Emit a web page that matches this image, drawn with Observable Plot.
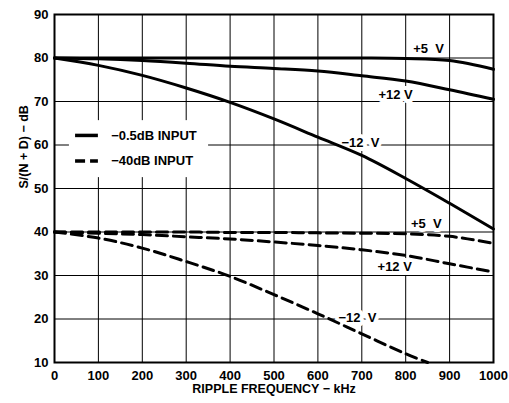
<!DOCTYPE html>
<html>
<head>
<meta charset="utf-8">
<script src="https://cdn.jsdelivr.net/npm/d3@7"></script>
<script src="https://cdn.jsdelivr.net/npm/@observablehq/plot@0.6"></script>
<style>
  html, body { margin: 0; padding: 0; background: #fff; }
</style>
</head>
<body>
<div id="chart"></div>
<script>
// ---- data ----
const freq = [0, 100, 200, 300, 400, 500, 600, 700, 800, 900, 1000];
const solidP5 = [80, 80, 80, 80, 80, 80, 80, 80, 79.9, 79.4, 77.4];
const solidP12 = [80, 79.8, 79.4, 78.8, 78.1, 77.6, 77.0, 75.9, 74.7, 72.7, 70.5];
const solidM12 = [80, 78.3, 76.0, 73.1, 69.8, 66.0, 61.8, 57.6, 52.3, 46.6, 40.7];
const dashP5 = [40, 40, 40, 40, 39.9, 39.9, 39.8, 39.7, 39.6, 39.0, 37.4];
const dashP12 = [40, 39.7, 39.4, 38.9, 38.4, 37.7, 36.9, 35.9, 34.6, 32.7, 30.8];
const freqDashM12 = [0, 100, 200, 300, 400, 500, 600, 700, 800, 850];
const dashM12 = [40, 38.6, 36.3, 33.2, 29.8, 25.6, 21.2, 16.6, 12.0, 10.0];

const xTicks = [0, 100, 200, 300, 400, 500, 600, 700, 800, 900, 1000];
const yTicks = [10, 20, 30, 40, 50, 60, 70, 80, 90];
const xGrid = [100, 200, 300, 400, 500, 600, 700, 800, 900];
const yGrid = [20, 30, 40, 50, 60, 70, 80];

const xLabel = "RIPPLE FREQUENCY − kHz";
const yLabel = "S/(N + D) − dB";

const curveLabels = [
  {x: 852, y: 82.0, text: "+5  V"},
  {x: 777, y: 71.5, text: "+12 V"},
  {x: 697, y: 60.4, text: "−12  V"},
  {x: 847, y: 41.9, text: "+5  V"},
  {x: 775, y: 31.9, text: "+12 V"},
  {x: 690, y: 20.3, text: "−12  V"}
];

const legendItems = [
  {name: "−0.5dB INPUT", y: 62.2, dash: null},
  {name: "−40dB INPUT", y: 56.3, dash: "10,5"}
];
const legendBox = {x1: 34, x2: 351, y1: 52.5, y2: 65.6};
const legendLineX = [48, 100];
const legendTextX = 129;

// ---- build series table ----
function series(xs, ys, name) {
  return xs.map((x, i) => ({x, y: ys[i], name}));
}
const solid = [
  ...series(freq, solidP5, "s+5"),
  ...series(freq, solidP12, "s+12"),
  ...series(freq, solidM12, "s-12")
];
const dashed = [
  ...series(freq, dashP5, "d+5"),
  ...series(freq, dashP12, "d+12"),
  ...series(freqDashM12, dashM12, "d-12")
];

const font = "'Liberation Sans', Arial, Helvetica, sans-serif";

const chart = Plot.plot({
  width: 509,
  height: 403,
  marginLeft: 54,
  marginRight: 16,
  marginTop: 14,
  marginBottom: 41,
  style: {fontFamily: font, fontWeight: "bold", fontSize: "13px", color: "#000", background: "#fff"},
  x: {domain: [0, 1000]},
  y: {domain: [10, 90]},
  marks: [
    Plot.ruleX(xGrid, {stroke: "#000", strokeWidth: 1}),
    Plot.ruleY(yGrid, {stroke: "#000", strokeWidth: 1}),
    Plot.rect([legendBox], {x1: "x1", x2: "x2", y1: "y1", y2: "y2", fill: "#fff"}),
    Plot.text(curveLabels, {x: "x", y: "y", text: "text", fill: "#fff", stroke: "#fff", strokeWidth: 8, fontSize: 13, fontWeight: "bold"}),
    Plot.line(solid, {x: "x", y: "y", z: "name", stroke: "#000", strokeWidth: 3, curve: "catmull-rom"}),
    Plot.line(dashed, {x: "x", y: "y", z: "name", stroke: "#000", strokeWidth: 3, strokeDasharray: "11,6", curve: "catmull-rom"}),
    Plot.text(curveLabels, {x: "x", y: "y", text: "text", fill: "#000", fontSize: 13, fontWeight: "bold"}),
    // legend
    Plot.ruleY(legendItems.filter(d => !d.dash), {y: "y", x1: legendLineX[0], x2: legendLineX[1], stroke: "#000", strokeWidth: 3.5}),
    Plot.ruleY(legendItems.filter(d => d.dash), {y: "y", x1: legendLineX[0], x2: legendLineX[1], stroke: "#000", strokeWidth: 3.5, strokeDasharray: "10,5"}),
    Plot.text(legendItems, {x: legendTextX, y: "y", text: "name", textAnchor: "start", fill: "#000", fontSize: 13, fontWeight: "bold"}),
    Plot.frame({stroke: "#000", strokeWidth: 2}),
    Plot.axisX({ticks: xTicks, tickSize: 0, tickPadding: 8, label: null, tickFormat: d => String(d), fontSize: 13, fontWeight: "bold"}),
    Plot.axisY({ticks: yTicks, tickSize: 0, tickPadding: 6, label: null, tickFormat: d => String(d), fontSize: 13, fontWeight: "bold"}),
    Plot.text([xLabel], {text: d => d, frameAnchor: "bottom", dy: 30, fontSize: 12.5, fontWeight: "bold", fill: "#000"}),
    Plot.text([yLabel], {text: d => d, frameAnchor: "left", dx: -31, rotate: -90, fontSize: 12.5, fontWeight: "bold", fill: "#000"})
  ]
});
document.getElementById("chart").appendChild(chart);
</script>
</body>
</html>
